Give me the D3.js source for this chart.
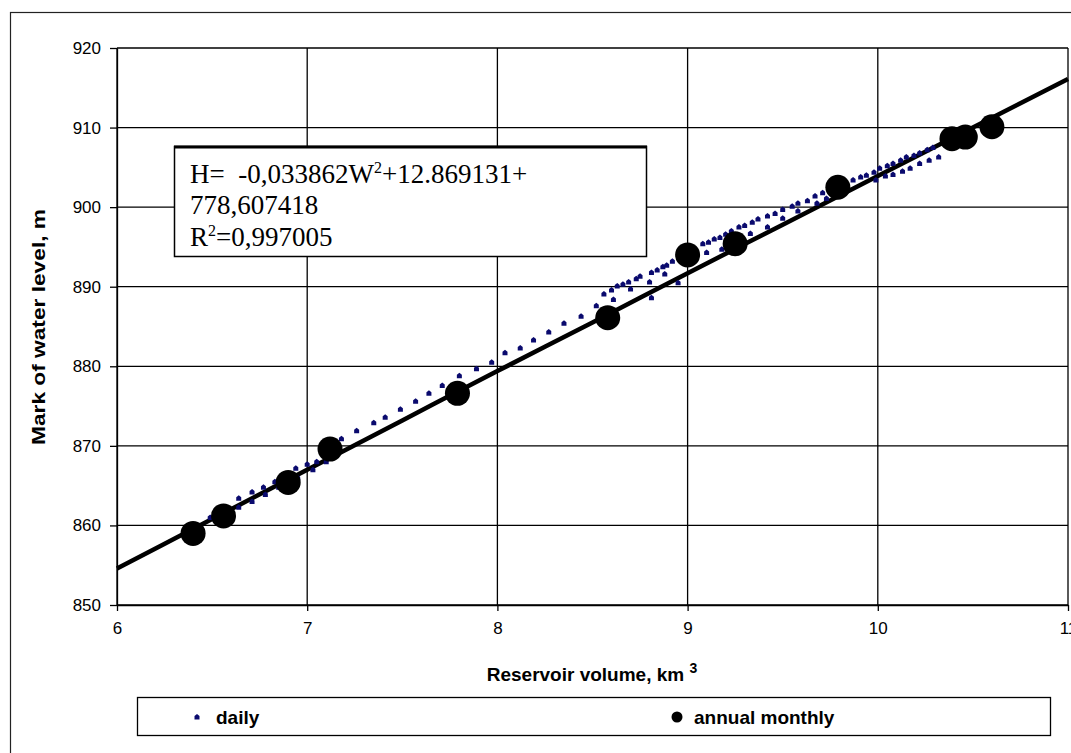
<!DOCTYPE html>
<html>
<head>
<meta charset="utf-8">
<script src="https://cdn.jsdelivr.net/npm/d3@7"></script>
<style>
  html, body { margin: 0; padding: 0; background: #fff; }
  svg { display: block; }
  .ttl { font-family: Arial, "Liberation Sans", sans-serif; font-weight: bold; font-size: 19px; fill: #000; }
  .eq { font-family: "Times New Roman", "Liberation Serif", serif; font-size: 27px; fill: #000; }
</style>
</head>
<body>
<svg id="chart" width="1071" height="753"></svg>
<script>
// axis ticks
const xTicks = [6, 7, 8, 9, 10, 11];
const yTicks = [850, 860, 870, 880, 890, 900, 910, 920];

// annual monthly points (reservoir volume km3, water level m)
const annualW = [6.40, 6.56, 6.90, 7.12, 7.79, 8.58, 9.00, 9.25, 9.79, 10.39, 10.46, 10.60];
const annualH = [859.0, 861.2, 865.4, 869.6, 876.6, 886.1, 894.0, 895.4, 902.5, 908.6, 908.8, 910.1];

// daily points
const dailyW = [
  6.49, 6.55, 6.64, 6.71, 6.78, 6.85, 6.95, 7.03, 7.10,
  6.64, 6.71, 6.77, 6.83, 6.94, 7.00, 7.05,
  7.18, 7.26, 7.35, 7.41, 7.49, 7.57, 7.64, 7.71, 7.80, 7.89, 7.97, 8.04,
  8.12, 8.19, 8.27, 8.35, 8.44, 8.52, 8.56, 8.60, 8.61, 8.63, 8.66, 8.69, 8.70,
  8.73, 8.75, 8.80, 8.81, 8.84, 8.87, 8.88, 8.89, 8.92, 8.81, 8.95,
  9.08, 9.11, 9.14, 9.17, 9.20, 9.23, 9.27, 9.30, 9.34, 9.37, 9.42, 9.46, 9.50,
  9.55, 9.58, 9.63, 9.67, 9.71,
  9.10, 9.18, 9.33, 9.42, 9.50, 9.58, 9.68, 9.73,
  9.87, 9.91, 9.94, 9.98, 10.01, 10.05, 10.08, 10.12, 10.15, 10.19, 10.22, 10.26, 10.29,
  9.99, 10.04, 10.08, 10.13, 10.17, 10.22, 10.27, 10.32
];
const dailyH = [
  861.0, 861.5, 862.3, 863.0, 863.9, 864.8, 866.0, 867.0, 868.0,
  863.4, 864.2, 864.8, 865.5, 867.2, 867.7, 868.0,
  870.9, 871.9, 872.9, 873.6, 874.6, 875.6, 876.6, 877.6, 878.8, 879.7, 880.5, 881.7,
  882.3, 883.3, 884.3, 885.4, 886.3, 887.6, 889.1, 889.6, 888.4, 890.1, 890.3, 890.6, 889.7,
  891.0, 891.3, 890.6, 891.8, 892.1, 892.5, 891.6, 892.7, 893.2, 888.6, 890.5,
  895.4, 895.6, 896.0, 896.2, 896.6, 897.0, 897.5, 897.7, 898.1, 898.5, 898.9, 899.2, 899.7,
  900.1, 900.5, 900.8, 901.4, 901.8,
  894.3, 894.7, 896.7, 897.5, 898.6, 899.5, 900.5, 901.1,
  903.4, 903.8, 904.0, 904.4, 904.9, 905.2, 905.5, 905.9, 906.3, 906.5, 906.8, 907.2, 907.5,
  903.4, 903.9, 904.1, 904.5, 904.9, 905.5, 905.9, 906.3
];

// polynomial trend line
const trendW = [6, 6.5, 7, 7.5, 8, 8.5, 9, 9.5, 10, 10.5, 11];
const trendH = [854.6, 860.8, 867.0, 873.2, 879.4, 885.5, 891.7, 897.8, 903.9, 910.0, 916.1];

const eqLines = ["H=\u00a0\u00a0-0,033862W", "+12.869131+", "778,607418", "=0,997005"];
const legendLabels = ["daily", "annual monthly"];

const svg = d3.select("#chart");

// outer chart frame
svg.append("rect")
  .attr("x", 10.5).attr("y", 12.5)
  .attr("width", 1100).attr("height", 800)
  .attr("fill", "#fff").attr("stroke", "#222").attr("stroke-width", 1.2);

const x = d3.scaleLinear().domain([6, 11]).range([117, 1068]);
const y = d3.scaleLinear().domain([850, 920]).range([605, 48]);

// gridlines
svg.append("g").selectAll("line").data(xTicks).join("line")
  .attr("x1", d => x(d)).attr("x2", d => x(d))
  .attr("y1", y(920)).attr("y2", y(850))
  .attr("stroke", "#000").attr("stroke-width", 1.3);
svg.append("g").selectAll("line").data(yTicks).join("line")
  .attr("x1", x(6)).attr("x2", x(11))
  .attr("y1", d => y(d)).attr("y2", d => y(d))
  .attr("stroke", "#000").attr("stroke-width", 1.3);

// axes
const gx = svg.append("g").attr("transform", `translate(0,${y(850)})`)
  .call(d3.axisBottom(x).tickValues(xTicks).tickSizeInner(6).tickSizeOuter(0).tickPadding(11).tickFormat(d3.format("d")));
const gy = svg.append("g").attr("transform", `translate(${x(6)},0)`)
  .call(d3.axisLeft(y).tickValues(yTicks).tickSizeInner(7).tickSizeOuter(0).tickPadding(9).tickFormat(d3.format("d")));
[gx, gy].forEach(g => {
  g.attr("font-family", "Arial, 'Liberation Sans', sans-serif").attr("font-size", 17);
  g.select(".domain").attr("stroke", "#000").attr("stroke-width", 1.3);
  g.selectAll(".tick line").attr("stroke", "#000").attr("stroke-width", 1.3);
  g.selectAll(".tick text").attr("fill", "#000");
});

// axis titles
const xt = svg.append("text").attr("class", "ttl")
  .attr("x", 592).attr("y", 681).attr("text-anchor", "middle");
xt.append("tspan").text("Reservoir volume, km ");
xt.append("tspan").attr("dy", -8).attr("font-size", 14).text("3");

svg.append("text").attr("class", "ttl")
  .attr("transform", "translate(45,327) rotate(-90)")
  .attr("text-anchor", "middle")
  .attr("textLength", 236).attr("lengthAdjust", "spacingAndGlyphs")
  .text("Mark of water level, m");

// trend line
const trendPts = trendW.map((w, i) => [w, trendH[i]]);
svg.append("path")
  .attr("d", d3.line().x(d => x(d[0])).y(d => y(d[1])).curve(d3.curveMonotoneX)(trendPts))
  .attr("fill", "none").attr("stroke", "#000").attr("stroke-width", 4.5);

// daily points
const dailyPts = dailyW.map((w, i) => [w, dailyH[i]]);
svg.append("g").selectAll("path").data(dailyPts).join("path")
  .attr("transform", d => `translate(${x(d[0])},${y(d[1])})`)
  .attr("d", "M-2.5,2.5L-2.5,-1L0,-3L2.5,-1L2.5,2.5Z")
  .attr("fill", "#0a0a6e");

// annual monthly points
const annualPts = annualW.map((w, i) => [w, annualH[i]]);
svg.append("g").selectAll("circle").data(annualPts).join("circle")
  .attr("cx", d => x(d[0])).attr("cy", d => y(d[1]))
  .attr("r", 12.5).attr("fill", "#000");

// equation box
const box = svg.append("g");
box.append("rect")
  .attr("x", 174.5).attr("y", 146.5).attr("width", 472).attr("height", 110)
  .attr("fill", "#fff").attr("stroke", "#000").attr("stroke-width", 1.5);
box.append("line")
  .attr("x1", 174).attr("x2", 647).attr("y1", 147).attr("y2", 147)
  .attr("stroke", "#000").attr("stroke-width", 3);
const l1 = box.append("text").attr("class", "eq").attr("x", 190).attr("y", 183);
l1.append("tspan").text(eqLines[0]);
l1.append("tspan").attr("dy", -10).attr("font-size", 16).text("2");
l1.append("tspan").attr("dy", 10).text(eqLines[1]);
box.append("text").attr("class", "eq").attr("x", 190).attr("y", 214).text(eqLines[2]);
const l3 = box.append("text").attr("class", "eq").attr("x", 190).attr("y", 246);
l3.append("tspan").text("R");
l3.append("tspan").attr("dy", -10).attr("font-size", 16).text("2");
l3.append("tspan").attr("dy", 10).text(eqLines[3]);

// legend
const lg = svg.append("g");
lg.append("rect")
  .attr("x", 137.5).attr("y", 697.5).attr("width", 913).attr("height", 38)
  .attr("fill", "#fff").attr("stroke", "#000").attr("stroke-width", 1.3);
lg.append("path")
  .attr("transform", "translate(197,717)")
  .attr("d", "M-2.5,2.5L-2.5,-1L0,-3L2.5,-1L2.5,2.5Z")
  .attr("fill", "#0a0a6e");
lg.append("circle").attr("cx", 677).attr("cy", 717).attr("r", 5.5).attr("fill", "#000");
lg.selectAll("text.lgt").data(legendLabels).join("text")
  .attr("class", "ttl lgt")
  .attr("x", (d, i) => i === 0 ? 216 : 694)
  .attr("y", 724)
  .attr("font-size", 19)
  .text(d => d);
</script>
</body>
</html>
